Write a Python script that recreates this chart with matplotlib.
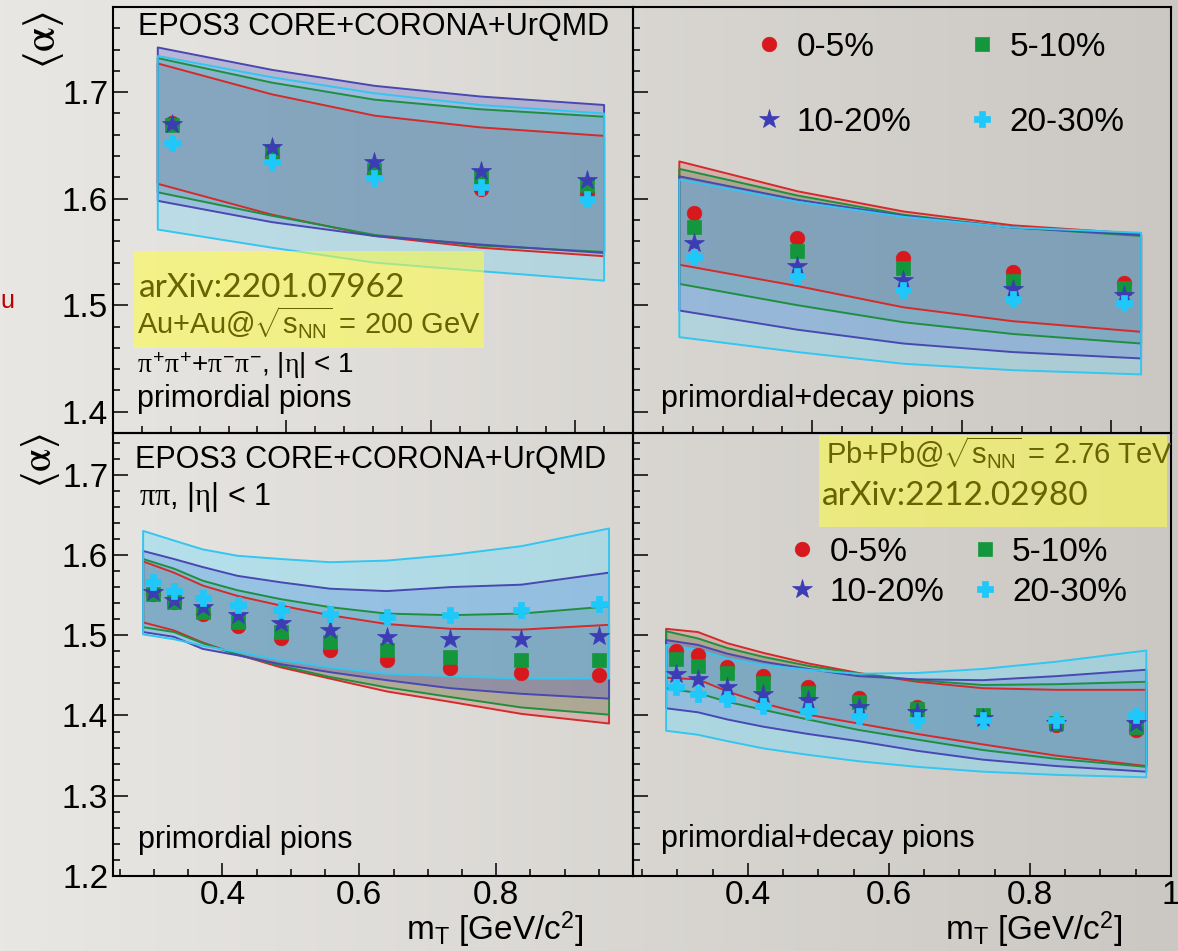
import numpy as np
import matplotlib
matplotlib.use('Agg')
import matplotlib.pyplot as plt
from matplotlib.patches import Rectangle
from matplotlib.colors import LinearSegmentedColormap
from matplotlib.ticker import MultipleLocator, FixedLocator, FuncFormatter

plt.rcParams['font.family'] = ['Liberation Sans', 'DejaVu Sans']
plt.rcParams['mathtext.fontset'] = 'custom'
plt.rcParams['mathtext.rm'] = 'Liberation Sans'
plt.rcParams['mathtext.it'] = 'Liberation Serif'
plt.rcParams['mathtext.bf'] = 'Liberation Sans:bold'

LABELS = ['0-5%', '5-10%', '10-20%', '20-30%']

# ---- top row: Au+Au 200 GeV (5 mT bins) ----
TOP_X = [0.241, 0.380, 0.522, 0.669, 0.817]
TOP_XB = [0.222, 0.380, 0.522, 0.668, 0.840]

TL_RED = [1.671, 1.640, 1.623, 1.609, 1.604]
TL_GREEN = [1.669, 1.645, 1.627, 1.620, 1.613]
TL_BLUE = [1.670, 1.649, 1.634, 1.626, 1.618]
TL_CYAN = [1.652, 1.634, 1.619, 1.611, 1.600]
TL_RED_LO = [1.614, 1.585, 1.565, 1.554, 1.546]
TL_RED_HI = [1.727, 1.698, 1.678, 1.667, 1.659]
TL_GREEN_LO = [1.606, 1.584, 1.566, 1.556, 1.550]
TL_GREEN_HI = [1.732, 1.709, 1.693, 1.684, 1.677]
TL_BLUE_LO = [1.598, 1.578, 1.565, 1.557, 1.549]
TL_BLUE_HI = [1.742, 1.721, 1.706, 1.696, 1.688]
TL_CYAN_LO = [1.571, 1.554, 1.540, 1.532, 1.523]
TL_CYAN_HI = [1.734, 1.714, 1.699, 1.688, 1.680]

TR_RED = [1.587, 1.563, 1.544, 1.531, 1.521]
TR_GREEN = [1.573, 1.551, 1.535, 1.523, 1.516]
TR_BLUE = [1.558, 1.537, 1.524, 1.515, 1.510]
TR_CYAN = [1.545, 1.527, 1.514, 1.506, 1.502]
TR_RED_LO = [1.538, 1.518, 1.498, 1.485, 1.475]
TR_RED_HI = [1.635, 1.607, 1.588, 1.575, 1.567]
TR_GREEN_LO = [1.520, 1.500, 1.484, 1.473, 1.464]
TR_GREEN_HI = [1.628, 1.603, 1.585, 1.573, 1.565]
TR_BLUE_LO = [1.495, 1.477, 1.464, 1.456, 1.450]
TR_BLUE_HI = [1.621, 1.599, 1.584, 1.573, 1.566]
TR_CYAN_LO = [1.470, 1.456, 1.445, 1.439, 1.435]
TR_CYAN_HI = [1.618, 1.597, 1.583, 1.573, 1.568]

# ---- bottom row: Pb+Pb 2.76 TeV (10 mT bins) ----
BOT_X = [0.298, 0.329, 0.371, 0.422, 0.485, 0.557, 0.640, 0.733, 0.837, 0.950]
BOT_XB = [0.284, 0.329, 0.371, 0.422, 0.485, 0.557, 0.640, 0.733, 0.837, 0.965]

BL_RED = [1.552, 1.541, 1.527, 1.512, 1.497, 1.482, 1.469, 1.459, 1.453, 1.451]
BL_GREEN = [1.552, 1.541, 1.529, 1.516, 1.504, 1.491, 1.481, 1.473, 1.469, 1.469]
BL_BLUE = [1.554, 1.544, 1.535, 1.525, 1.515, 1.506, 1.498, 1.495, 1.495, 1.499]
BL_CYAN = [1.566, 1.555, 1.547, 1.538, 1.531, 1.526, 1.523, 1.525, 1.531, 1.539]
BL_RED_LO = [1.516, 1.506, 1.491, 1.476, 1.460, 1.446, 1.430, 1.417, 1.402, 1.390]
BL_RED_HI = [1.592, 1.578, 1.562, 1.549, 1.537, 1.525, 1.514, 1.508, 1.507, 1.513]
BL_GREEN_LO = [1.510, 1.504, 1.490, 1.476, 1.462, 1.448, 1.435, 1.423, 1.410, 1.401]
BL_GREEN_HI = [1.595, 1.583, 1.568, 1.556, 1.545, 1.535, 1.527, 1.525, 1.527, 1.536]
BL_BLUE_LO = [1.504, 1.498, 1.483, 1.475, 1.464, 1.454, 1.444, 1.434, 1.427, 1.421]
BL_BLUE_HI = [1.605, 1.595, 1.585, 1.574, 1.566, 1.558, 1.555, 1.560, 1.563, 1.578]
BL_CYAN_LO = [1.501, 1.495, 1.487, 1.479, 1.469, 1.460, 1.452, 1.449, 1.446, 1.446]
BL_CYAN_HI = [1.630, 1.618, 1.607, 1.599, 1.595, 1.591, 1.593, 1.600, 1.611, 1.633]

BR_RED = [1.480, 1.476, 1.461, 1.449, 1.435, 1.422, 1.411, 1.399, 1.388, 1.382]
BR_GREEN = [1.470, 1.462, 1.453, 1.440, 1.428, 1.417, 1.408, 1.400, 1.391, 1.386]
BR_BLUE = [1.452, 1.445, 1.436, 1.427, 1.419, 1.410, 1.404, 1.397, 1.391, 1.391]
BR_CYAN = [1.435, 1.427, 1.420, 1.412, 1.405, 1.399, 1.395, 1.394, 1.395, 1.401]
BR_RED_LO = [1.447, 1.445, 1.430, 1.415, 1.401, 1.390, 1.377, 1.364, 1.350, 1.337]
BR_RED_HI = [1.508, 1.504, 1.490, 1.478, 1.465, 1.453, 1.442, 1.434, 1.432, 1.432]
BR_GREEN_LO = [1.434, 1.428, 1.417, 1.407, 1.395, 1.382, 1.370, 1.357, 1.346, 1.336]
BR_GREEN_HI = [1.505, 1.496, 1.484, 1.473, 1.462, 1.452, 1.444, 1.438, 1.439, 1.442]
BR_BLUE_LO = [1.409, 1.404, 1.395, 1.386, 1.377, 1.368, 1.356, 1.345, 1.337, 1.330]
BR_BLUE_HI = [1.494, 1.488, 1.477, 1.467, 1.458, 1.449, 1.445, 1.444, 1.449, 1.457]
BR_CYAN_LO = [1.381, 1.376, 1.368, 1.359, 1.351, 1.343, 1.336, 1.330, 1.326, 1.323]
BR_CYAN_HI = [1.488, 1.482, 1.471, 1.463, 1.457, 1.452, 1.453, 1.458, 1.467, 1.481]

# styles: (marker, size, color, band face, band edge)
STYLES = [
    ('o', 10.5, '#d7191e', (0.82, 0.38, 0.36, 0.30), '#d42a2a'),
    ('s', 9.5, '#14963c', (0.26, 0.56, 0.30, 0.28), '#1f8f3f'),
    ('*', 15, '#3c3cb4', (0.33, 0.33, 0.76, 0.30), '#4848b0'),
    ('P', 11.5, '#1ec8fa', (0.40, 0.82, 0.96, 0.32), '#33c6f0'),
]
CYAN_FACE_BOTTOM = (0.38, 0.86, 1.0, 0.36)

W, H = 1178, 951
fig = plt.figure(figsize=(W / 100, H / 100), dpi=100)

bg = fig.add_axes([0, 0, 1, 1], zorder=-10)
cmap = LinearSegmentedColormap.from_list('bg', ['#e9e7e4', '#cbc8c3'])
bg.imshow(np.linspace(0, 1, 256)[None, :], aspect='auto', cmap=cmap, extent=[0, 1, 0, 1])
bg.axis('off')


def px_axes(x0, y0, x1, y1):
    return fig.add_axes([x0 / W, 1 - y1 / H, (x1 - x0) / W, (y1 - y0) / H])


tl = px_axes(113, 7, 633, 433)
tr = px_axes(633, 7, 1171, 433)
bl = px_axes(113, 433, 633, 876)
br = px_axes(633, 433, 1171, 876)


def draw_panel(ax, xb, bands, xp, series, cyan_face=None):
    for i, ((lo, hi), st) in enumerate(zip(bands, STYLES)):
        face = cyan_face if (i == 3 and cyan_face) else st[3]
        ax.fill_between(xb, lo, hi, facecolor=face, edgecolor='none', zorder=2)
    for (lo, hi), st in zip(bands, STYLES):
        ax.fill_between(xb, lo, hi, facecolor='none', edgecolor=st[4], lw=1.4, zorder=3)
    handles = []
    for y, st in zip(series, STYLES):
        h, = ax.plot(xp, y, ls='none', marker=st[0], ms=st[1], color=st[2],
                     mec=st[2], mew=0.5, zorder=5)
        handles.append(h)
    return handles


draw_panel(tl, TOP_XB,
           [(TL_RED_LO, TL_RED_HI), (TL_GREEN_LO, TL_GREEN_HI),
            (TL_BLUE_LO, TL_BLUE_HI), (TL_CYAN_LO, TL_CYAN_HI)],
           TOP_X, [TL_RED, TL_GREEN, TL_BLUE, TL_CYAN])
h_tr = draw_panel(tr, TOP_XB,
                  [(TR_RED_LO, TR_RED_HI), (TR_GREEN_LO, TR_GREEN_HI),
                   (TR_BLUE_LO, TR_BLUE_HI), (TR_CYAN_LO, TR_CYAN_HI)],
                  TOP_X, [TR_RED, TR_GREEN, TR_BLUE, TR_CYAN])
draw_panel(bl, BOT_XB,
           [(BL_RED_LO, BL_RED_HI), (BL_GREEN_LO, BL_GREEN_HI),
            (BL_BLUE_LO, BL_BLUE_HI), (BL_CYAN_LO, BL_CYAN_HI)],
           BOT_X, [BL_RED, BL_GREEN, BL_BLUE, BL_CYAN], CYAN_FACE_BOTTOM)
h_br = draw_panel(br, BOT_XB,
                  [(BR_RED_LO, BR_RED_HI), (BR_GREEN_LO, BR_GREEN_HI),
                   (BR_BLUE_LO, BR_BLUE_HI), (BR_CYAN_LO, BR_CYAN_HI)],
                  BOT_X, [BR_RED, BR_GREEN, BR_BLUE, BR_CYAN], CYAN_FACE_BOTTOM)

fmt = FuncFormatter(lambda v, p: '%g' % round(v, 2))
for ax in (tl, tr, bl, br):
    ax.set_facecolor('none')
    for s in ax.spines.values():
        s.set_linewidth(1.5)
    ax.tick_params(which='both', direction='in', top=False, right=False,
                   width=1.1, labelsize=24, colors='black')
    ax.tick_params(axis='y', which='major', length=10.5, pad=3.5)
    ax.tick_params(axis='x', which='major', length=9.5, pad=3)
    ax.tick_params(which='minor', length=5)
    ax.yaxis.set_major_locator(MultipleLocator(0.1))
    ax.yaxis.set_minor_locator(MultipleLocator(0.02))
    ax.yaxis.set_major_formatter(FuncFormatter(lambda v, p: '%.1f' % v))
    ax.xaxis.set_major_formatter(fmt)

for ax in (tl, tr):
    ax.set_xlim(0.16, 0.88)
    ax.set_ylim(1.38, 1.78)
    ax.xaxis.set_major_locator(FixedLocator([0.4, 0.6, 0.8]))
    ax.xaxis.set_minor_locator(MultipleLocator(0.04))
    ax.tick_params(labelbottom=False)
for ax in (bl, br):
    ax.set_ylim(1.2, 1.752)
    ax.xaxis.set_minor_locator(MultipleLocator(0.05))
bl.set_xlim(0.24, 1.0)
br.set_xlim(0.237, 1.0)
bl.xaxis.set_major_locator(FixedLocator([0.4, 0.6, 0.8]))
br.xaxis.set_major_locator(FixedLocator([0.4, 0.6, 0.8, 1.0]))
tr.tick_params(labelleft=False)
br.tick_params(labelleft=False)

OLIVE = '#666300'
YELLOW = (1.0, 1.0, 0.25, 0.55)

# top-left annotations
tl.text(0.048, 0.934, 'EPOS3 CORE+CORONA+UrQMD', transform=tl.transAxes,
        fontsize=22, va='baseline', zorder=6)
tl.add_patch(Rectangle((0.0385, 0.1995), 0.675, 0.2277, transform=tl.transAxes,
                       facecolor=YELLOW, edgecolor='none', zorder=4))
tl.text(0.05, 0.319, 'arXiv:2201.07962', transform=tl.transAxes, fontsize=24,
        family='Lato', color=OLIVE, va='baseline', zorder=6)
tl.text(0.046, 0.230, r'Au+Au@$\sqrt{\mathrm{s}_{\mathrm{NN}}}$ = 200 GeV',
        transform=tl.transAxes, fontsize=21, color=OLIVE, va='baseline', zorder=6)
tl.text(0.046, 0.142, r'$\pi^{+}\pi^{+}$+$\pi^{-}\pi^{-}$, |$\eta$| < 1',
        transform=tl.transAxes, fontsize=20, va='baseline', zorder=6)
tl.text(0.046, 0.061, 'primordial pions', transform=tl.transAxes, fontsize=22,
        va='baseline', zorder=6)

# top-right annotations
tr.text(0.052, 0.061, 'primordial+decay pions', transform=tr.transAxes, fontsize=22,
        va='baseline', zorder=6)
order = [0, 2, 1, 3]
tr.legend([h_tr[i] for i in order], [LABELS[i] for i in order], ncol=2,
          loc='upper left', bbox_to_anchor=(0.2286, 0.942), frameon=False,
          fontsize=24, handlelength=0.8, handletextpad=0.42, columnspacing=1.72,
          labelspacing=1.32, borderpad=0, borderaxespad=0, numpoints=1)

# bottom-left annotations
bl.text(0.0423, 0.921, 'EPOS3 CORE+CORONA+UrQMD', transform=bl.transAxes,
        fontsize=22, va='baseline', zorder=6)
bl.text(0.05, 0.8375, r'$\pi\pi$, |$\eta$| < 1', transform=bl.transAxes,
        fontsize=22, va='baseline', zorder=6)
bl.text(0.048, 0.0632, 'primordial pions', transform=bl.transAxes, fontsize=22,
        va='baseline', zorder=6)

# bottom-right annotations
br.add_patch(Rectangle((0.3457, 0.7878), 0.6469, 0.2077, transform=br.transAxes,
                       facecolor=YELLOW, edgecolor='none', zorder=4))
br.text(0.3587, 0.9278, r'Pb+Pb@$\sqrt{\mathrm{s}_{\mathrm{NN}}}$ = 2.76 TeV',
        transform=br.transAxes, fontsize=21, color=OLIVE, va='baseline', zorder=6)
br.text(0.351, 0.8375, 'arXiv:2212.02980', transform=br.transAxes, fontsize=24,
        family='Lato', color=OLIVE, va='baseline', zorder=6)
br.text(0.052, 0.0655, 'primordial+decay pions', transform=br.transAxes, fontsize=22,
        va='baseline', zorder=6)
br.legend([h_br[i] for i in order], [LABELS[i] for i in order], ncol=2,
          loc='upper left', bbox_to_anchor=(0.29, 0.765), frameon=False,
          fontsize=24, handlelength=0.8, handletextpad=0.42, columnspacing=0.8,
          labelspacing=0.27, borderpad=0, borderaxespad=0, numpoints=1)

# axis titles
xl = r'm$_{\mathrm{T}}$ [GeV/c$^{\mathrm{2}}$]'
bl.text(0.904, -0.145, xl, transform=bl.transAxes, fontsize=24, ha='right', va='baseline')
br.text(0.909, -0.145, xl, transform=br.transAxes, fontsize=24, ha='right', va='baseline')
yl = r'$\langle\mathrm{\alpha}\rangle$'
fig.text(43 / W, 1 - 40 / H, yl, rotation=90, fontsize=32,
         ha='center', va='center', math_fontfamily='stix')
fig.text(40 / W, 1 - 461 / H, yl, rotation=90, fontsize=30,
         ha='center', va='center', math_fontfamily='stix')
fig.text(0.5 / W, 1 - 308 / H, 'u', color='#c00000', fontsize=18, ha='left', va='baseline')

fig.savefig('out.png', dpi=100)
